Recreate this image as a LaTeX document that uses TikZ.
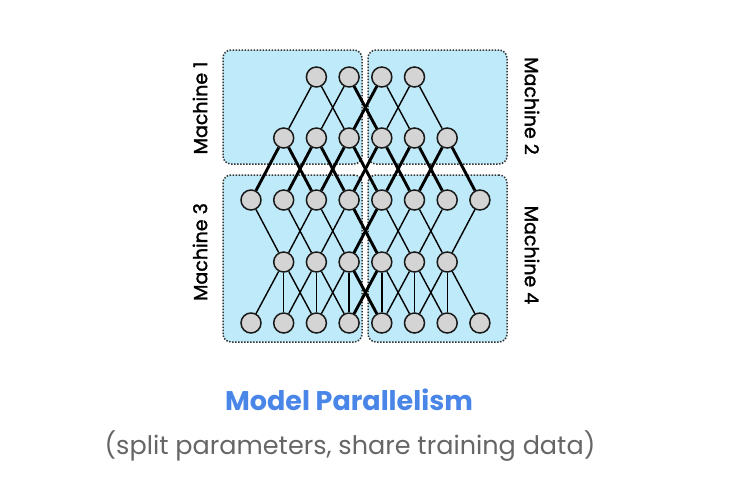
\documentclass[tikz,border=0pt]{standalone}
\usepackage{fontspec}
\setmainfont{Poppins}
\newfontfamily\labelfont{Poppins}[BoldFont={Poppins}, BoldFeatures={FakeBold=1.6}]

\definecolor{machinefill}{HTML}{BFEAF9}
\definecolor{titleblue}{HTML}{4A86E8}
\definecolor{subgray}{HTML}{666666}

\tikzset{
  neuron/.style={circle, draw=black!90, fill=black!17, line width=1.5pt,
    minimum size=20pt, inner sep=0pt},
  link/.style={line width=1.4pt},
  crosslink/.style={line width=2.9pt},
  machine/.style={draw=black!80, fill=machinefill, rounded corners=8pt,
    dash pattern=on 1.5pt off 1.5pt, line width=1.5pt,
    minimum width=139pt, minimum height=114pt},
  machinelabel/.style={font=\labelfont\bfseries\fontsize{19}{22}\selectfont},
}

\begin{document}
\begin{tikzpicture}[x=1pt,y=-1pt]
  \useasboundingbox (0,0) rectangle (745,488);

  % the four machines
  \node[machine] (m1) at (292.5,107) {};
  \node[machine] (m2) at (437.5,107) {};
  \node[machine, minimum height=167pt] (m3) at (292.5,258.5) {};
  \node[machine, minimum height=167pt] (m4) at (437.5,258.5) {};
  \node[machinelabel, rotate=90]  (l1) at (200,108) {Machine 1};
  \node[machinelabel, rotate=-90] (l2) at (532,106) {Machine 2};
  \node[machinelabel, rotate=90]  (l3) at (200,252) {Machine 3};
  \node[machinelabel, rotate=-90] (l4) at (532,255) {Machine 4};

  % layers
  \foreach \i in {2,...,5}
    \node[neuron] (a\i) at ({251+32.7*\i},77) {};
  \foreach \i in {1,...,6}
    \node[neuron] (b\i) at ({251+32.7*\i},138) {};
  \foreach \i in {0,...,7}
    \node[neuron] (c\i) at ({251+32.7*\i},200) {};
  \foreach \i in {1,...,6}
    \node[neuron] (d\i) at ({251+32.7*\i},262) {};
  \foreach \i in {0,...,7}
    \node[neuron] (e\i) at ({251+32.7*\i},323) {};

  % connections
  \foreach \i in {2,...,5} {
    \pgfmathtruncatemacro\lft{\i-1}
    \pgfmathtruncatemacro\rgt{\i+1}
    \draw[link] (a\i) -- (b\lft);
    \draw[link] (a\i) -- (b\rgt);
  }
  \foreach \i in {1,...,6} {
    \pgfmathtruncatemacro\lft{\i-1}
    \pgfmathtruncatemacro\rgt{\i+1}
    \draw[crosslink] (b\i) -- (c\lft);
    \draw[crosslink] (b\i) -- (c\rgt);
    \draw[link] (d\i) -- (c\lft);
    \draw[link] (d\i) -- (c\rgt);
    \draw[link] (d\i) -- (e\lft);
    \draw[link] (d\i) -- (e\i);
    \draw[link] (d\i) -- (e\rgt);
  }
  % links between machine 1/2 and 3/4
  \foreach \u/\v in {a3/b4, a4/b3, c3/d4, c4/d3, d3/e4, d4/e3}
    \draw[crosslink] (\u) -- (\v);

  \node[font=\fontsize{27}{32}\selectfont\bfseries, text=titleblue]
    (title) at (349,400) {Model Parallelism};
  \node[font=\fontsize{25.5}{30}\selectfont, text=subgray]
    (subtitle) at (350,446) {(split parameters, share training data)};
\end{tikzpicture}
\end{document}
